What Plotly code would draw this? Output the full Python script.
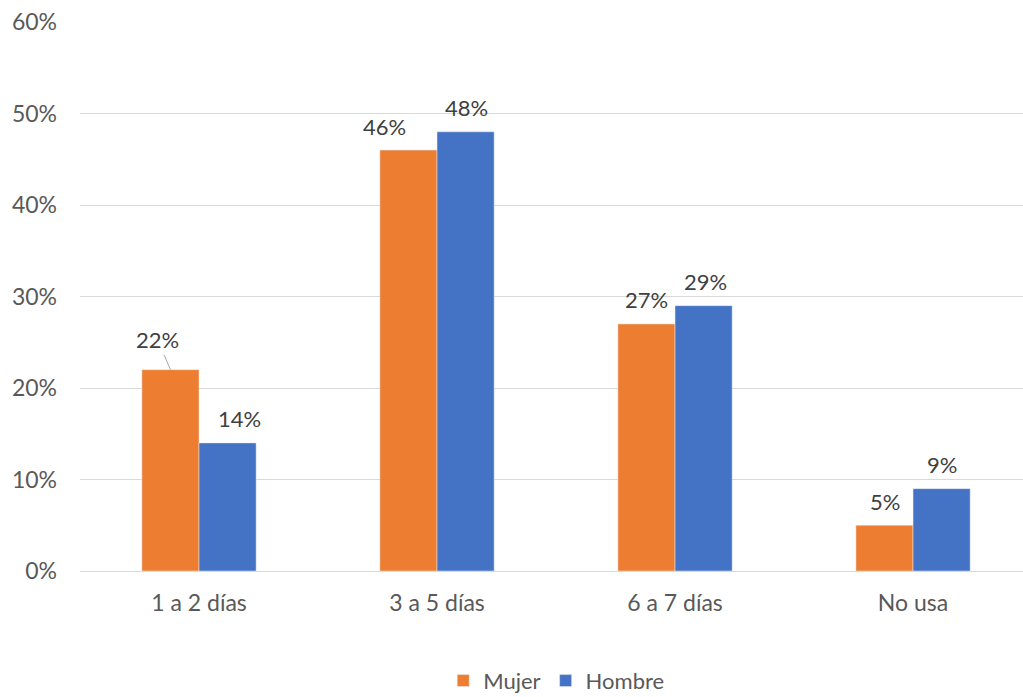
import plotly.graph_objects as go

categories = ["1 a 2 días", "3 a 5 días", "6 a 7 días", "No usa"]
mujer = [22, 46, 27, 5]
hombre = [14, 48, 29, 9]
y_ticks = [0, 10, 20, 30, 40, 50, 60]

ORANGE = "#ED7D31"
BLUE = "#4472C4"
FONT = "Lato"
LABEL_SIZE = 22
TICK_SIZE = 23

fig = go.Figure()
fig.add_trace(go.Bar(name="Mujer", x=categories, y=mujer, marker_color=ORANGE))
fig.add_trace(go.Bar(name="Hombre", x=categories, y=hombre, marker_color=BLUE))

# value labels; a few are nudged sideways, one with a leader line
mujer_dx = [0, -24, 0, 0]
hombre_dx = [12, 1, 2, 0]
annotations = []
for i, c in enumerate(categories):
    if i == 0:
        annotations.append(dict(
            x=c, y=mujer[i], xref="x", yref="y", xshift=-28.5,
            text=f"{mujer[i]}%", showarrow=True, arrowhead=0, arrowwidth=1,
            arrowcolor="#A6A6A6", ax=-13, ay=-30,
            font=dict(family=FONT, size=LABEL_SIZE, color="#404040")))
    else:
        annotations.append(dict(
            x=c, y=mujer[i], xref="x", yref="y", xshift=-28.5 + mujer_dx[i],
            yshift=24, yanchor="middle", text=f"{mujer[i]}%", showarrow=False,
            font=dict(family=FONT, size=LABEL_SIZE, color="#404040")))
    annotations.append(dict(
        x=c, y=hombre[i], xref="x", yref="y", xshift=28.5 + hombre_dx[i],
        yshift=24, yanchor="middle", text=f"{hombre[i]}%", showarrow=False,
        font=dict(family=FONT, size=LABEL_SIZE, color="#404040")))

fig.update_layout(
    width=1023, height=697,
    margin=dict(l=80, r=0, t=22, b=126, autoexpand=False),
    paper_bgcolor="white", plot_bgcolor="white",
    barmode="group", bargap=0.52, bargroupgap=0,
    font=dict(family=FONT, color="#595959"),
    annotations=annotations,
    legend=dict(orientation="h", x=0.505, xanchor="center", y=-0.2, yanchor="middle",
                font=dict(family=FONT, size=LABEL_SIZE, color="#595959"),
                itemwidth=30, tracegroupgap=0),
    xaxis=dict(range=[-0.5, 3.462], showgrid=False, showline=False, ticks="",
               automargin=False, ticklabelstandoff=16,
               tickfont=dict(family=FONT, size=TICK_SIZE, color="#595959")),
    yaxis=dict(range=[0, 60], tickvals=y_ticks, ticktext=[f"{v}%" for v in y_ticks],
               showgrid=True, gridcolor="#D9D9D9", gridwidth=1, zeroline=True,
               zerolinecolor="#D9D9D9", zerolinewidth=1, showline=False, ticks="",
               automargin=False, ticklabelstandoff=22,
               tickfont=dict(family=FONT, size=TICK_SIZE, color="#595959")),
)

fig.write_html("out.html")
